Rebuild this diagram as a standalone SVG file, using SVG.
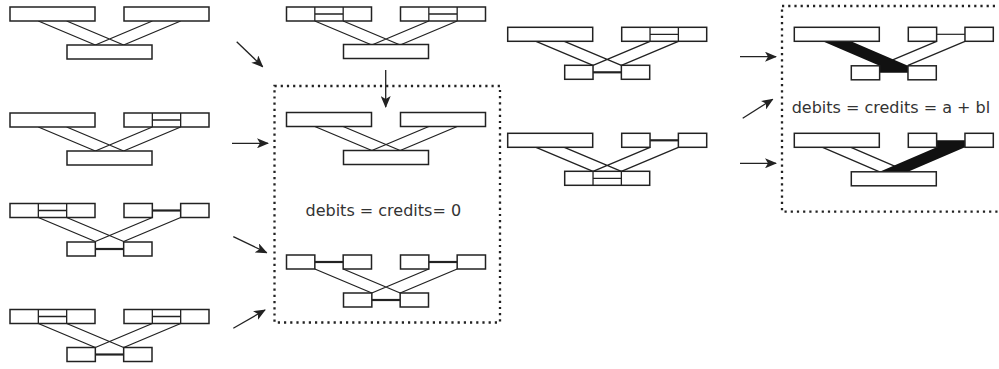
<svg xmlns="http://www.w3.org/2000/svg" xmlns:xlink="http://www.w3.org/1999/xlink" width="999" height="369" viewBox="0 0 999 369">
  <style>
    .bx { fill: #fff; stroke: #222; stroke-width: 1.5; }
    .ln { fill: none; stroke: #222; stroke-width: 1.3; }
    .br { fill: none; stroke: #222; stroke-width: 2.2; }
    .thin { fill: none; stroke: #222; stroke-width: 1.2; }
    .band { fill: #111; stroke: none; }
    .arrow { fill: none; stroke: #222; stroke-width: 1.3; marker-end: url(#head); }
    .dots { fill: none; stroke: #222; stroke-width: 2.3; stroke-dasharray: 2.2 4; }
    .lbl { font-family: "DejaVu Sans", "Liberation Sans", sans-serif; font-size: 16px; fill: #333; }
  </style>
  <defs>
    <marker id="head" viewBox="0 0 12 10" refX="11" refY="5" markerWidth="12" markerHeight="10" markerUnits="userSpaceOnUse" orient="auto">
      <path d="M0,0 L12,5 L0,10 L3,5 Z" fill="#222"/>
    </marker>
    <!-- one solid account bar -->
    <rect id="full" class="bx" width="85" height="14"/>
    <!-- bar in thirds with a split middle section -->
    <g id="split">
      <rect class="bx" width="85" height="14"/>
      <path class="ln" d="M28.33,0V14M56.67,0V14M28.33,7H56.67"/>
    </g>
    <!-- two end boxes joined by a bridge -->
    <g id="pair">
      <path class="br" d="M28.33,7H56.67"/>
      <rect class="bx" width="28.33" height="14"/>
      <rect class="bx" x="56.67" width="28.33" height="14"/>
    </g>
    <g id="pairThin">
      <path class="thin" d="M28.33,7H56.67"/>
      <rect class="bx" width="28.33" height="14"/>
      <rect class="bx" x="56.67" width="28.33" height="14"/>
    </g>
    <!-- crossing links from the two upper bars to the lower bar -->
    <path id="cross" class="ln" d="M28.33,14L85.33,38M56.67,14L113.67,38M142.33,14L85.33,38M170.67,14L113.67,38"/>
  </defs>

  <!-- left column -->
  <g id="L1" transform="translate(10,7)">
    <use xlink:href="#cross"/>
    <use xlink:href="#full"/>
    <use xlink:href="#full" x="114"/>
    <use xlink:href="#full" x="57" y="38"/>
  </g>
  <g id="L2" transform="translate(10,113)">
    <use xlink:href="#cross"/>
    <use xlink:href="#full"/>
    <use xlink:href="#split" x="114"/>
    <use xlink:href="#full" x="57" y="38"/>
  </g>
  <g id="L3" transform="translate(10,203.5)">
    <use xlink:href="#cross"/>
    <use xlink:href="#split"/>
    <use xlink:href="#pair" x="114"/>
    <use xlink:href="#pair" x="57" y="38.5"/>
  </g>
  <g id="L4" transform="translate(10,309.5)">
    <use xlink:href="#cross"/>
    <use xlink:href="#split"/>
    <use xlink:href="#split" x="114"/>
    <use xlink:href="#pair" x="57" y="38"/>
  </g>

  <!-- middle column -->
  <g id="M1" transform="translate(286.5,7)">
    <use xlink:href="#cross"/>
    <use xlink:href="#split"/>
    <use xlink:href="#split" x="114"/>
    <use xlink:href="#full" x="57" y="37.5"/>
  </g>
  <g id="M2" transform="translate(286.5,112.5)">
    <use xlink:href="#cross"/>
    <use xlink:href="#full"/>
    <use xlink:href="#full" x="114"/>
    <use xlink:href="#full" x="57" y="38"/>
  </g>
  <g id="M3" transform="translate(286.5,255)">
    <use xlink:href="#cross"/>
    <use xlink:href="#pair"/>
    <use xlink:href="#pair" x="114"/>
    <use xlink:href="#pair" x="57" y="38"/>
  </g>

  <!-- third column -->
  <g id="R1" transform="translate(507.7,27.3)">
    <use xlink:href="#cross"/>
    <use xlink:href="#full"/>
    <use xlink:href="#split" x="114"/>
    <use xlink:href="#pair" x="57" y="38"/>
  </g>
  <g id="R2" transform="translate(507.7,133.3)">
    <use xlink:href="#cross"/>
    <use xlink:href="#full"/>
    <use xlink:href="#pair" x="114"/>
    <use xlink:href="#split" x="57" y="38"/>
  </g>

  <!-- balanced pair with heavy flow -->
  <g id="B1" transform="translate(794.3,27.3)">
    <path class="ln" d="M142.33,14L85.33,38M170.67,14L113.67,38"/>
    <polygon class="band" points="28.33,14 56.67,14 113.67,38.5 113.67,45.5 85.33,45.5 85.33,38.5"/>
    <use xlink:href="#full"/>
    <use xlink:href="#pairThin" x="114"/>
    <rect class="bx" x="57" y="38.5" width="28.33" height="14"/>
    <rect class="bx" x="113.67" y="38.5" width="28.33" height="14"/>
  </g>
  <g id="B2" transform="translate(794.3,133.3)">
    <path class="ln" d="M28.33,14L85.33,38.5M56.67,14L113.67,38.5"/>
    <polygon class="band" points="142.33,7 170.67,7 170.67,14 113.67,38.5 85.33,38.5 142.33,14"/>
    <use xlink:href="#full"/>
    <rect class="bx" x="114" width="28.33" height="14"/>
    <rect class="bx" x="170.67" width="28.33" height="14"/>
    <use xlink:href="#full" x="57" y="38.5"/>
  </g>

  <!-- groupings and labels -->
  <g id="zeroGroup">
    <rect class="dots" x="274.5" y="86" width="225.5" height="236.5"/>
    <text class="lbl" x="383.3" y="215.7" text-anchor="middle">debits = credits= 0</text>
  </g>
  <g id="flowGroup">
    <rect class="dots" x="782" y="6" width="225" height="205.7"/>
    <text class="lbl" x="791.7" y="113.3">debits = credits = a + bl</text>
  </g>

  <!-- connectors -->
  <g id="connectors">
    <line class="arrow" x1="236.7" y1="41.7" x2="262.7" y2="66.7"/>
    <line class="arrow" x1="232" y1="143.3" x2="268" y2="143.3"/>
    <line class="arrow" x1="233.3" y1="236.7" x2="266.7" y2="252.7"/>
    <line class="arrow" x1="233.3" y1="328.3" x2="265" y2="310"/>
    <line class="arrow" x1="385.7" y1="70" x2="385.7" y2="107"/>
    <line class="arrow" x1="740" y1="56.7" x2="776" y2="56.7"/>
    <line class="arrow" x1="742.7" y1="118.3" x2="772.7" y2="99.3"/>
    <line class="arrow" x1="740" y1="163.3" x2="776" y2="163.3"/>
  </g>
</svg>
